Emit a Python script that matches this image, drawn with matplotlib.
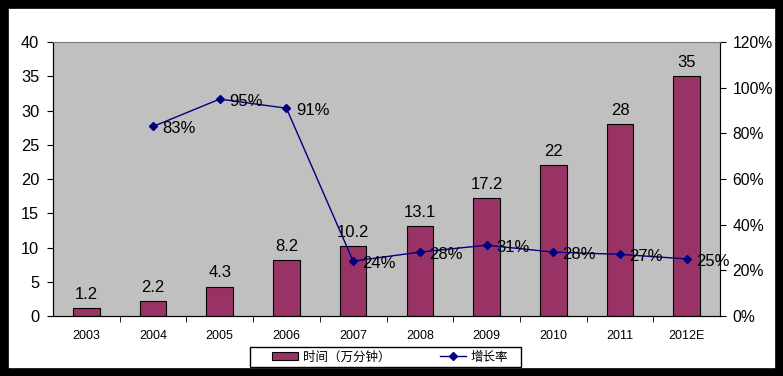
import numpy as np
import matplotlib.pyplot as plt
from matplotlib.patches import Rectangle

plt.rcParams['font.family'] = ['Liberation Sans', 'Noto Sans CJK SC', 'DejaVu Sans']

years = ['2003', '2004', '2005', '2006', '2007', '2008', '2009', '2010', '2011', '2012E']
minutes = [1.2, 2.2, 4.3, 8.2, 10.2, 13.1, 17.2, 22, 28, 35]
minute_labels = ['1.2', '2.2', '4.3', '8.2', '10.2', '13.1', '17.2', '22', '28', '35']
growth = [83, 95, 91, 24, 28, 31, 28, 27, 25]  # 2004 - 2012E

W, H = 783, 376
fig = plt.figure(figsize=(W / 100, H / 100), dpi=100)
fig.patch.set_facecolor('white')

# black frame round the picture
fig.patches.append(Rectangle((0, 0), 1, 1, transform=fig.transFigure, fill=False,
                             edgecolor='black', linewidth=12, zorder=10))

left, right, top, bottom = 53, 720, 42, 316
ax = fig.add_axes([left / W, 1 - bottom / H, (right - left) / W, (bottom - top) / H])
ax.set_facecolor('#C0C0C0')

x = np.arange(len(years))
bars = ax.bar(x, minutes, width=0.4, color='#993366', edgecolor='black', linewidth=0.8,
              label='时间（万分钟）', zorder=2)
for xi, v, lab in zip(x, minutes, minute_labels):
    ax.text(xi, v + 0.9, lab, ha='center', va='bottom', fontsize=12, color='black')

ax.set_xlim(-0.5, len(years) - 0.5)
ax.set_ylim(0, 40)
ax.set_yticks(range(0, 41, 5))
ax.tick_params(axis='y', labelsize=11.8, length=4, direction='out', pad=6)
ax.set_xticks(x)
ax.set_xticklabels(years, fontsize=9)
ax.tick_params(axis='x', length=0, pad=10)
ax.set_xticks(np.arange(0.5, len(years) - 0.5, 1), minor=True)
ax.tick_params(axis='x', which='minor', length=4, direction='out')
for s in ['top', 'right']:
    ax.spines[s].set_color('#808080')
for s in ['left', 'bottom']:
    ax.spines[s].set_color('black')

ax2 = ax.twinx()
ax2.plot(x[1:], growth, color='#000080', linewidth=1, marker='D', markersize=4,
         label='增长率', zorder=3)
for xi, g in zip(x[1:], growth):
    ax2.text(xi + 0.14, g - 1, f'{g}%', ha='left', va='center', fontsize=12, color='black')
ax2.set_ylim(0, 120)
ax2.set_yticks(range(0, 121, 20))
ax2.set_yticklabels([f'{t}%' for t in range(0, 121, 20)])
ax2.tick_params(axis='y', labelsize=11.3, length=4, direction='out', pad=5)
ax2.spines['right'].set_color('black')
ax2.spines['top'].set_color('#808080')

# legend box drawn by hand, entries without frame
fig.patches.append(Rectangle((250 / W, 1 - 367 / H), 271 / W, 20 / H, transform=fig.transFigure,
                             facecolor='white', edgecolor='black', linewidth=1, zorder=5))
h1, l1 = ax.get_legend_handles_labels()
h2, l2 = ax2.get_legend_handles_labels()
leg = fig.legend(h1 + h2, l1 + l2, loc='center', bbox_to_anchor=(390 / W, 1 - 357 / H),
                 ncol=2, frameon=False, borderpad=0, borderaxespad=0,
                 handlelength=2.1, handleheight=0.65, handletextpad=0.35, columnspacing=4.0,
                 prop={'family': ['Noto Sans CJK SC', 'DejaVu Sans'], 'size': 9})
leg.set_zorder(6)

fig.savefig('out.png', dpi=100)
